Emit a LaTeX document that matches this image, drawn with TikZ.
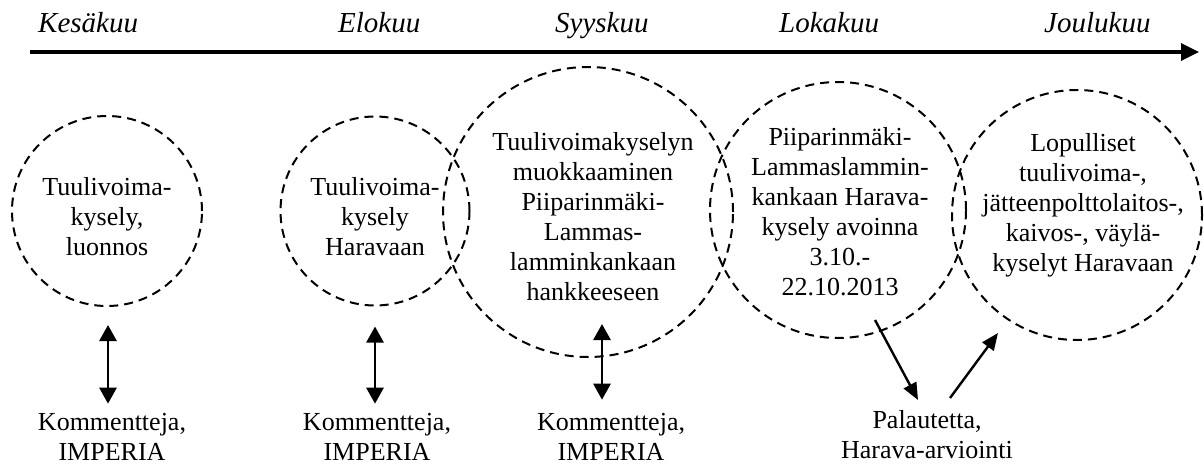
\documentclass[tikz,border=0pt]{standalone}
\usepackage{fontspec}
\setmainfont{Liberation Serif}
\usetikzlibrary{arrows.meta}
\begin{document}
\begin{tikzpicture}[x=1pt,y=-1pt,
  dcirc/.style={circle,draw,line width=2pt,dash pattern=on 9pt off 6pt,inner sep=0pt},
  txt/.style={align=center,inner sep=0pt,font=\fontsize{26pt}{30pt}\selectfont,
    execute at begin node=\strut,execute at end node=\strut},
  month/.style={anchor=base west,inner sep=0pt,font=\fontsize{29pt}{32pt}\selectfont\itshape},
  dbl/.style={line width=2.8pt,{Triangle[length=16pt,width=17pt]}-{Triangle[length=16pt,width=17pt]}},
  arr/.style={line width=2.4pt,-{Triangle[length=17pt,width=14pt]}},
  tline/.style={line width=3.4pt,-{Triangle[length=18pt,width=17pt]}}]
\useasboundingbox (0,0) rectangle (1204,466);
% timeline
\coordinate (tl0) at (30,52);
\coordinate (tl1) at (1199,52);
\draw[tline] (tl0) -- (tl1);
\node[month] (m1) at (38,32) {Kesäkuu};
\node[month] (m2) at (338,32) {Elokuu};
\node[month] (m3) at (555,32) {Syyskuu};
\node[month] (m4) at (779,32) {Lokakuu};
\node[month] (m5) at (1044,32) {Joulukuu};
% circles
\node[dcirc,minimum size=190pt] (c1) at (107,211) {};
\node[dcirc,minimum size=189pt] (c2) at (375,211) {};
\node[dcirc,minimum size=290pt] (c3) at (588,212) {};
\node[dcirc,minimum size=256pt] (c4) at (838,210) {};
\node[dcirc,minimum size=250pt] (c5) at (1077,215) {};
% circle texts
\node[txt] (t1) at (107,221) {Tuulivoima-\\kysely,\\luonnos};
\node[txt] (t2) at (375,221) {Tuulivoima-\\kysely\\Haravaan};
\node[txt] (t3) at (593,221) {Tuulivoimakyselyn\\muokkaaminen\\Piiparinmäki-\\Lammas-\\lamminkankaan\\hankkeeseen};
\node[txt] (t4) at (840,216) {Piiparinmäki-\\Lammaslammin-\\kankaan Harava-\\kysely avoinna\\3.10.-\\22.10.2013};
\node[txt] (t5) at (1083,207) {Lopulliset\\tuulivoima-,\\jätteenpolttolaitos-,\\kaivos-, väylä-\\kyselyt Haravaan};
% bottom labels
\node[txt] (k1) at (112,441) {Kommentteja,\\IMPERIA};
\node[txt] (k2) at (377,441) {Kommentteja,\\IMPERIA};
\node[txt] (k3) at (611,441) {Kommentteja,\\IMPERIA};
\node[txt] (p) at (927,439) {Palautetta,\\Harava-arviointi};
% arrows
\draw[dbl,shorten <=18pt,shorten >=9pt] ([xshift=1pt]c1.south) -- ([xshift=1pt]c1.south |- k1.north);
\draw[dbl,shorten <=20pt,shorten >=9pt] (c2.south) -- (c2.south |- k2.north);
\draw[dbl,shorten <=-34pt,shorten >=13pt] ([xshift=14pt]c3.south) -- ([xshift=14pt]c3.south |- k3.north);
\draw[arr] ([shift={(37,110)}]c4.center) -- ([shift={(-9,-39)}]p.center);
\draw[arr] ([shift={(23,-41)}]p.center) -- ([shift={(-79,118)}]c5.center);
\end{tikzpicture}
\end{document}
